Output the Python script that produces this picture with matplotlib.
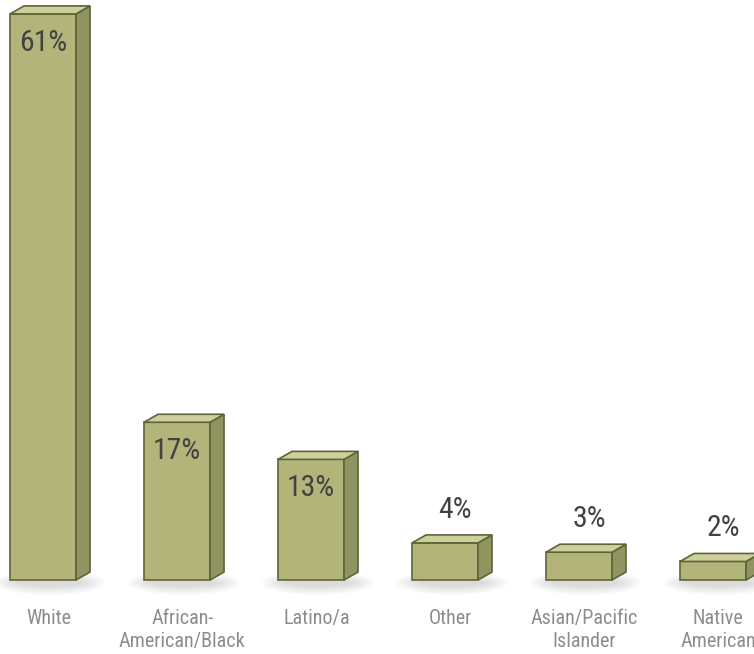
import matplotlib.pyplot as plt
from matplotlib.patches import Polygon, Ellipse
import numpy as np

categories = ["White", "African-\nAmerican/Black", "Latino/a", "Other",
              "Asian/Pacific\nIslander", "Native\nAmerican"]
values = [61, 17, 13, 4, 3, 2]
labels = ["61%", "17%", "13%", "4%", "3%", "2%"]

front = "#b2b479"
side = "#8f9460"
top = "#cdd09a"
edge = "#5f6438"

plt.rcParams['font.family'] = ['Roboto Condensed', 'DejaVu Sans']

fig = plt.figure(figsize=(7.54, 6.54), dpi=100)
ax = fig.add_axes([0, 0, 1, 1])
ax.set_xlim(-0.321, 5.306)
ax.set_ylim(-7.97, 62.5)
ax.axis('off')

x = np.arange(len(values))
w = 0.4925
dx = 0.1045
dy = 0.862

# soft shadows under bars
for xi in x:
    for k in range(10):
        ax.add_patch(Ellipse((xi + 0.05, -0.3), w * (1.7 - k * 0.08), 2.6 - k * 0.22,
                             color="#7a7a80", alpha=0.028, lw=0, zorder=1))

ax.bar(x, values, width=w, color=front, edgecolor=edge, linewidth=1.2, zorder=3)
for xi, v in zip(x, values):
    l, r = xi - w / 2, xi + w / 2
    ax.add_patch(Polygon([[r, 0], [r + dx, dy], [r + dx, v + dy], [r, v]],
                         closed=True, fc=side, ec=edge, lw=1.2, zorder=3))
    ax.add_patch(Polygon([[l, v], [r, v], [r + dx, v + dy], [l + dx, v + dy]],
                         closed=True, fc=top, ec=edge, lw=1.2, zorder=3))

for xi, v, lab in zip(x, values, labels):
    if v > 10:
        ax.text(xi, v - 3.1, lab, ha='center', va='center', fontsize=21.5,
                color="#424242", zorder=4)
    else:
        ax.text(xi + 0.075, v + 3.6, lab, ha='center', va='center', fontsize=21.5,
                color="#424242", zorder=4)

for xi, c in zip(x, categories):
    ax.text(xi + 0.04, -3.1, c, ha='center', va='top', fontsize=14.5,
            color="#8c8c8c", linespacing=1.3)

plt.savefig("out.png", dpi=100)
